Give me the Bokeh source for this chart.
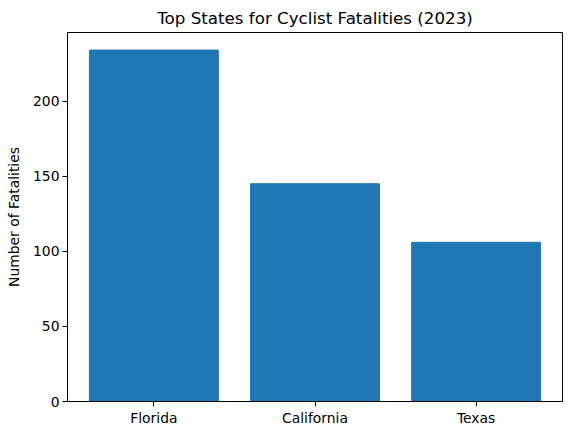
from bokeh.plotting import figure
from bokeh.models import FixedTicker
from bokeh.embed import file_html
from bokeh.resources import INLINE

# Data
states = ["Florida", "California", "Texas"]
fatalities = [234, 145, 106]
y_ticks = [0, 50, 100, 150, 200]

p = figure(x_range=states, y_range=(0, 245.7), frame_width=495, frame_height=369,
           output_backend="svg", toolbar_location=None,
           min_border_left=67, min_border_right=1, min_border_top=24, min_border_bottom=26)
p.x_range.range_padding = 0.036
p.x_range.range_padding_units = "absolute"

p.vbar(x=states, top=fatalities, width=0.8, color="#1f77b4")

# Title
p.title.text = "Top States for Cyclist Fatalities (2023)"
p.title.align = "center"
p.title.text_font = "DejaVu Sans"
p.title.text_font_size = "16.7px"
p.title.text_font_style = "normal"
p.title.text_color = "black"

p.yaxis.axis_label = "Number of Fatalities"
p.yaxis.axis_label_standoff = 8
p.yaxis.ticker = FixedTicker(ticks=y_ticks)

for ax in (p.xaxis[0], p.yaxis[0]):
    ax.major_label_text_font = "DejaVu Sans"
    ax.major_label_text_font_size = "13.9px"
    ax.major_label_text_color = "black"
    ax.major_label_standoff = 3
    ax.axis_label_text_font = "DejaVu Sans"
    ax.axis_label_text_font_size = "13.9px"
    ax.axis_label_text_font_style = "normal"
    ax.axis_label_text_color = "black"
    ax.major_tick_in = 0
    ax.major_tick_out = 5
    ax.minor_tick_line_color = None
    ax.axis_line_color = "black"
    ax.major_tick_line_color = "black"

p.xgrid.grid_line_color = None
p.ygrid.grid_line_color = None
p.outline_line_color = "black"
p.outline_line_alpha = 1
p.background_fill_color = "white"

open("out.html", "w").write(file_html(p, INLINE))
